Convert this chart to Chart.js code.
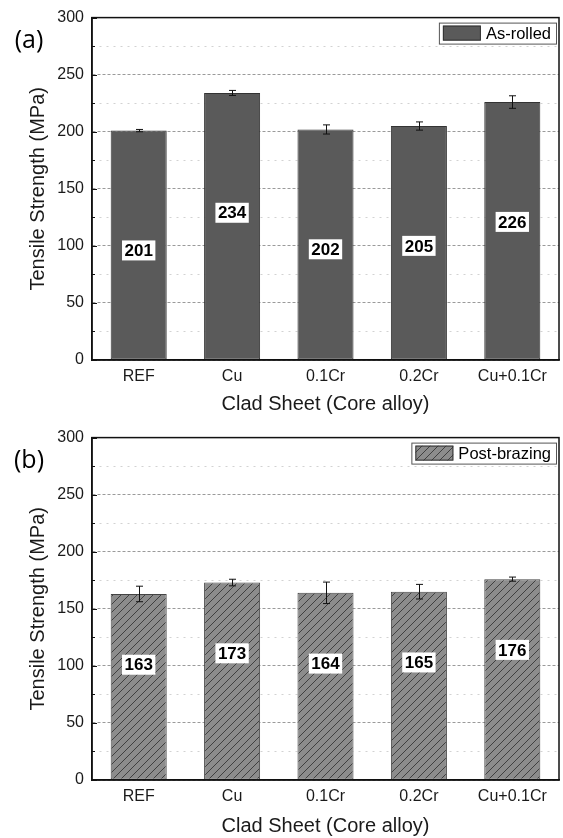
<!DOCTYPE html>
<html>
<head>
<meta charset="utf-8">
<script src="https://cdn.jsdelivr.net/npm/chart.js@4.4.0/dist/chart.umd.min.js"></script>
<style>
  body { margin: 0; background: #fff; }
  canvas { display: block; }
</style>
</head>
<body>
<canvas id="rolled" width="563" height="420"></canvas>
<canvas id="brazed" width="563" height="418"></canvas>
<script>
// Core alloys of the clad sheets
const alloys = ['REF', 'Cu', '0.1Cr', '0.2Cr', 'Cu+0.1Cr'];

// Tensile strength (MPa) and standard deviation, as-rolled
const asRolled = [201, 234, 202, 205, 226];
const asRolledErr = [1, 2.2, 4, 3.6, 5.5];

// Tensile strength (MPa) and standard deviation, after brazing
const postBrazing = [163, 173, 164, 165, 176];
const postBrazingErr = [6.8, 2.9, 9.4, 6.4, 1.8];

// Axis ticks
const yMajorTicks = [0, 50, 100, 150, 200, 250, 300];
const yMinorTicks = [25, 75, 125, 175, 225, 275];

const SANS = '"Liberation Sans", Arial, sans-serif';
Chart.defaults.font.family = SANS;
Chart.defaults.color = '#1a1a1a';

function hatchPattern() {
  const s = 8;
  const c = document.createElement('canvas');
  c.width = s; c.height = s;
  const g = c.getContext('2d');
  g.fillStyle = '#8c8c8c';
  g.fillRect(0, 0, s, s);
  g.strokeStyle = '#404040';
  g.lineWidth = 1;
  g.beginPath();
  g.moveTo(-1, s + 1); g.lineTo(s + 1, -1);
  g.moveTo(-s - 1, s + 1); g.lineTo(1, -1);
  g.moveTo(-1, 2 * s + 1); g.lineTo(2 * s + 1, -1);
  g.stroke();
  return g.createPattern(c, 'repeat');
}

// Frame, inward ticks, error bars, value boxes, legend and panel letter
const decorations = {
  id: 'decorations',
  afterDatasetsDraw(chart, args, o) {
    const { ctx, chartArea: a } = chart;
    const x = chart.scales.x, y = chart.scales.y;
    ctx.save();

    // error bars
    ctx.strokeStyle = '#111';
    ctx.lineWidth = 1;
    o.values.forEach((v, i) => {
      const px = Math.round(x.getPixelForValue(i)) + 0.5;
      const lo = y.getPixelForValue(v - o.errors[i]);
      const hi = y.getPixelForValue(v + o.errors[i]);
      ctx.beginPath();
      ctx.moveTo(px, lo); ctx.lineTo(px, hi);
      ctx.moveTo(px - 3.5, lo); ctx.lineTo(px + 3.5, lo);
      ctx.moveTo(px - 3.5, hi); ctx.lineTo(px + 3.5, hi);
      ctx.stroke();
    });

    // value boxes
    ctx.font = 'bold 17px ' + SANS;
    ctx.textAlign = 'center';
    ctx.textBaseline = 'middle';
    o.values.forEach((v, i) => {
      const px = x.getPixelForValue(i);
      const py = y.getPixelForValue(v - o.labelDrop);
      const t = String(v);
      const w = ctx.measureText(t).width + 5;
      ctx.fillStyle = '#fff';
      ctx.fillRect(px - w / 2, py - 10, w, 20);
      ctx.fillStyle = '#000';
      ctx.fillText(t, px, py + 1);
    });

    // frame
    ctx.strokeStyle = '#111';
    ctx.lineWidth = 1.5;
    ctx.strokeRect(a.left, a.top, a.right - a.left, a.bottom - a.top);

    // inward ticks on the value axis
    ctx.lineWidth = 1;
    yMajorTicks.concat(yMinorTicks).forEach(t => {
      const py = Math.round(y.getPixelForValue(t)) + 0.5;
      const len = yMajorTicks.includes(t) ? 5 : 3;
      ctx.beginPath();
      ctx.moveTo(a.left, py); ctx.lineTo(a.left + len, py);
      ctx.stroke();
    });

    // legend box
    const ds = chart.data.datasets[0];
    ctx.font = '16.5px ' + SANS;
    const tw = ctx.measureText(ds.label).width;
    const bw = 4 + 38 + 5 + tw + 5, bh = 21;
    const bx = a.right - 3 - bw, by = a.top + 5;
    ctx.fillStyle = '#fff';
    ctx.fillRect(bx, by, bw, bh);
    ctx.strokeStyle = '#555';
    ctx.strokeRect(bx + 0.5, by + 0.5, bw, bh);
    ctx.fillStyle = ds.backgroundColor;
    ctx.fillRect(bx + 4, by + 3, 38, 15);
    ctx.strokeStyle = '#333';
    ctx.strokeRect(bx + 4.5, by + 3.5, 37, 14);
    ctx.fillStyle = '#000';
    ctx.textAlign = 'left';
    ctx.fillText(ds.label, bx + 47, by + bh / 2 + 1);

    // panel letter
    ctx.font = '25px "Open Sans", sans-serif';
    ctx.textAlign = 'center';
    ctx.fillText(o.letter, 29, 41);

    ctx.restore();
  }
};

function panel(id, cfg) {
  return new Chart(document.getElementById(id), {
    type: 'bar',
    data: {
      labels: alloys,
      datasets: [{
        label: cfg.name,
        data: cfg.values,
        backgroundColor: cfg.fill,
        borderColor: cfg.edge,
        borderWidth: 1,
        borderSkipped: false,
        barPercentage: 0.6,
        categoryPercentage: 1
      }]
    },
    options: {
      responsive: false,
      devicePixelRatio: 1,
      animation: false,
      layout: { padding: { top: cfg.top, right: 4, left: 0, bottom: 0 } },
      plugins: {
        legend: { display: false },
        tooltip: { enabled: false },
        decorations: {
          values: cfg.values,
          errors: cfg.errors,
          labelDrop: cfg.labelDrop,
          letter: cfg.letter
        }
      },
      scales: {
        x: {
          afterFit: s => { s.height = cfg.xHeight; },
          grid: { display: false, drawTicks: false },
          border: { display: true, color: '#111', width: 1.5 },
          ticks: { padding: 7, font: { size: 16 }, color: '#1a1a1a' },
          title: {
            display: true,
            text: 'Clad Sheet (Core alloy)',
            font: { size: 20 },
            color: '#1a1a1a',
            padding: { top: 0, bottom: cfg.titleGap }
          }
        },
        y: {
          min: 0,
          max: 300,
          afterFit: s => { s.width = 92; },
          afterBuildTicks: s => {
            s.ticks = yMajorTicks.concat(yMinorTicks)
              .sort((p, q) => p - q)
              .map(v => ({ value: v }));
          },
          ticks: {
            padding: 8,
            font: { size: 16 },
            color: '#1a1a1a',
            callback: v => (yMajorTicks.includes(v) ? String(v) : '')
          },
          grid: {
            drawTicks: false,
            lineWidth: 1,
            color: c => (yMajorTicks.includes(c.tick.value) ? '#9a9a9a' : '#d2d2d2')
          },
          border: {
            display: true,
            color: '#111',
            width: 1.5,
            dash: c => (c.tick && yMajorTicks.includes(c.tick.value) ? [3, 2] : [2, 5])
          },
          title: {
            display: true,
            text: 'Tensile Strength (MPa)',
            font: { size: 20 },
            color: '#1a1a1a',
            padding: { top: 26, bottom: 0 }
          }
        }
      }
    },
    plugins: [decorations]
  });
}

panel('rolled', {
  name: 'As-rolled',
  values: asRolled,
  errors: asRolledErr,
  fill: '#5a5a5a',
  edge: '#333333',
  labelDrop: 105,
  letter: '(a)',
  top: 15,
  xHeight: 60,
  titleGap: 4
});

panel('brazed', {
  name: 'Post-brazing',
  values: postBrazing,
  errors: postBrazingErr,
  fill: hatchPattern(),
  edge: '#444444',
  labelDrop: 62,
  letter: '(b)',
  top: 14,
  xHeight: 58,
  titleGap: 0
});
</script>
</body>
</html>
